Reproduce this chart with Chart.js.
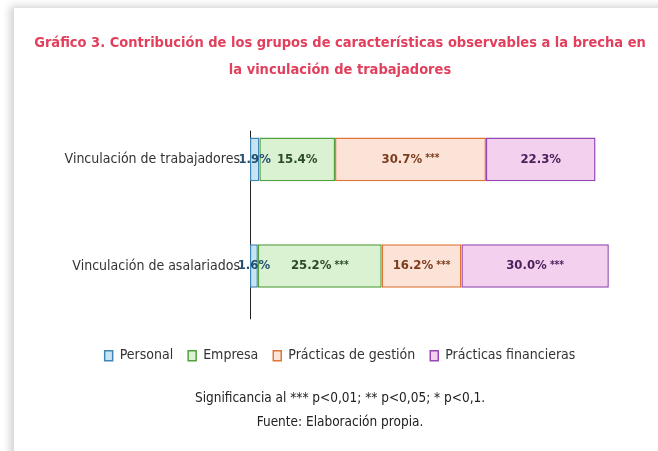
<!DOCTYPE html>
<html>
<head>
<meta charset="utf-8">
<script src="https://cdn.jsdelivr.net/npm/chart.js@4.4.1/dist/chart.umd.min.js"></script>
<style>
  html, body { margin: 0; padding: 0; background: #fff; overflow: hidden; }
  #panel {
    position: absolute; left: 14px; top: 8px; width: 660px; height: 460px;
    background: #fff; box-shadow: -4px -2px 8px rgba(0,0,0,0.18);
  }
  #wrap { position: absolute; left: 22px; top: 0; width: 636px; height: 451px; }
</style>
</head>
<body>
<div id="panel"></div>
<div id="wrap"><canvas id="chart"></canvas></div>
<script>
// Data
const categories = ["Vinculación de trabajadores", "Vinculación de asalariados"];
const seriesNames = ["Personal", "Empresa", "Prácticas de gestión", "Prácticas financieras"];
const personal = [1.9, 1.6];
const empresa = [15.4, 25.2];
const gestion = [30.7, 16.2];
const financieras = [22.3, 30.0];
// significance stars per series, per category
const starsPersonal = ["", ""];
const starsEmpresa = ["", "***"];
const starsGestion = ["***", "***"];
const starsFinancieras = ["", "***"];

const FONT = "'Liberation Sans Narrow', 'DejaVu Sans Condensed', 'Roboto', sans-serif";

const fills = ["#c6e4f4", "#daf2d2", "#fbe3d7", "#f2d0ee"];
const borders = ["#3f85b5", "#52a03d", "#e07335", "#9447b4"];
const labelColors = ["#23506f", "#2b4a27", "#7b3b1c", "#4b2159"];
const values = [personal, empresa, gestion, financieras];
const stars = [starsPersonal, starsEmpresa, starsGestion, starsFinancieras];

// value labels centered on each segment
const segmentLabels = {
  id: "segmentLabels",
  afterDatasetsDraw(chart) {
    const ctx = chart.ctx;
    chart.data.datasets.forEach((ds, i) => {
      chart.getDatasetMeta(i).data.forEach((bar, j) => {
        const txt = ds.data[j].toFixed(1) + "%";
        const st = stars[i][j];
        ctx.save();
        ctx.font = "bold 13px " + FONT;
        const w1 = ctx.measureText(txt).width;
        ctx.font = "bold 10px " + FONT;
        const w2 = st ? ctx.measureText(" " + st).width : 0;
        const cx = (bar.x + bar.base) / 2;
        let x = cx - (w1 + w2) / 2;
        ctx.fillStyle = labelColors[i];
        ctx.textBaseline = "middle";
        ctx.textAlign = "left";
        ctx.font = "bold 13px " + FONT;
        ctx.fillText(txt, x, bar.y);
        if (st) {
          ctx.font = "bold 10px " + FONT;
          ctx.fillText(" " + st, x + w1, bar.y - 1);
        }
        ctx.restore();
      });
    });
  }
};

// vertical zero line
const zeroLine = {
  id: "zeroLine",
  beforeDatasetsDraw(chart) {
    const { ctx, scales: { x, y }, chartArea } = chart;
    const px = x.getPixelForValue(0);
    const top = y.getPixelForValue(0) - (y.getPixelForValue(1) - y.getPixelForValue(0)) * 0.27;
    ctx.save();
    ctx.strokeStyle = "#222";
    ctx.lineWidth = 1;
    ctx.beginPath();
    ctx.moveTo(px + 0.5, top);
    ctx.lineTo(px + 0.5, chartArea.bottom);
    ctx.stroke();
    ctx.restore();
  }
};

new Chart(document.getElementById("chart"), {
  type: "bar",
  data: {
    labels: categories,
    datasets: seriesNames.map((name, i) => ({
      label: name,
      data: values[i],
      backgroundColor: fills[i],
      borderColor: borders[i],
      borderWidth: 1.5,
      borderSkipped: false,
      categoryPercentage: 1,
      barPercentage: 0.41
    }))
  },
  options: {
    indexAxis: "y",
    responsive: true,
    maintainAspectRatio: false,
    animation: false,
    layout: { padding: 0 },
    scales: {
      x: {
        stacked: true, min: 0, max: 83,
        grid: { display: false, drawTicks: false },
        border: { display: false },
        ticks: { display: false },
        afterFit: (scale) => { scale.height = 14.5; }
      },
      y: {
        stacked: true,
        grid: { display: false, drawTicks: false },
        border: { display: false },
        afterFit: (scale) => { scale.width = 228; },
        ticks: { color: "#333", padding: 10, font: { family: FONT, size: 14 } }
      }
    },
    plugins: {
      title: {
        display: true,
        text: ["Gráfico 3. Contribución de los grupos de características observables a la brecha en",
               "la vinculación de trabajadores"],
        color: "#e23f5d",
        font: { family: FONT, size: 14.5, weight: "bold", lineHeight: 1.85 },
        padding: { top: 30, bottom: 22.5 }
      },
      legend: {
        position: "bottom",
        labels: {
          color: "#333",
          boxWidth: 8, boxHeight: 10,
          padding: 15,
          font: { family: FONT, size: 14 },
          generateLabels: (chart) => chart.data.datasets.map((ds, i) => ({
            text: ds.label, fillStyle: ds.backgroundColor, strokeStyle: ds.borderColor,
            lineWidth: 1.5, fontColor: "#333", datasetIndex: i
          }))
        }
      },
      subtitle: {
        display: true,
        position: "bottom",
        text: ["Significancia al *** p<0,01; ** p<0,05; * p<0,1.", "Fuente: Elaboración propia."],
        color: "#222",
        font: { family: FONT, size: 13.5, lineHeight: 1.75 },
        padding: { top: 14, bottom: 17 }
      },
      tooltip: { enabled: false }
    }
  },
  plugins: [zeroLine, segmentLabels]
});
</script>
</body>
</html>
